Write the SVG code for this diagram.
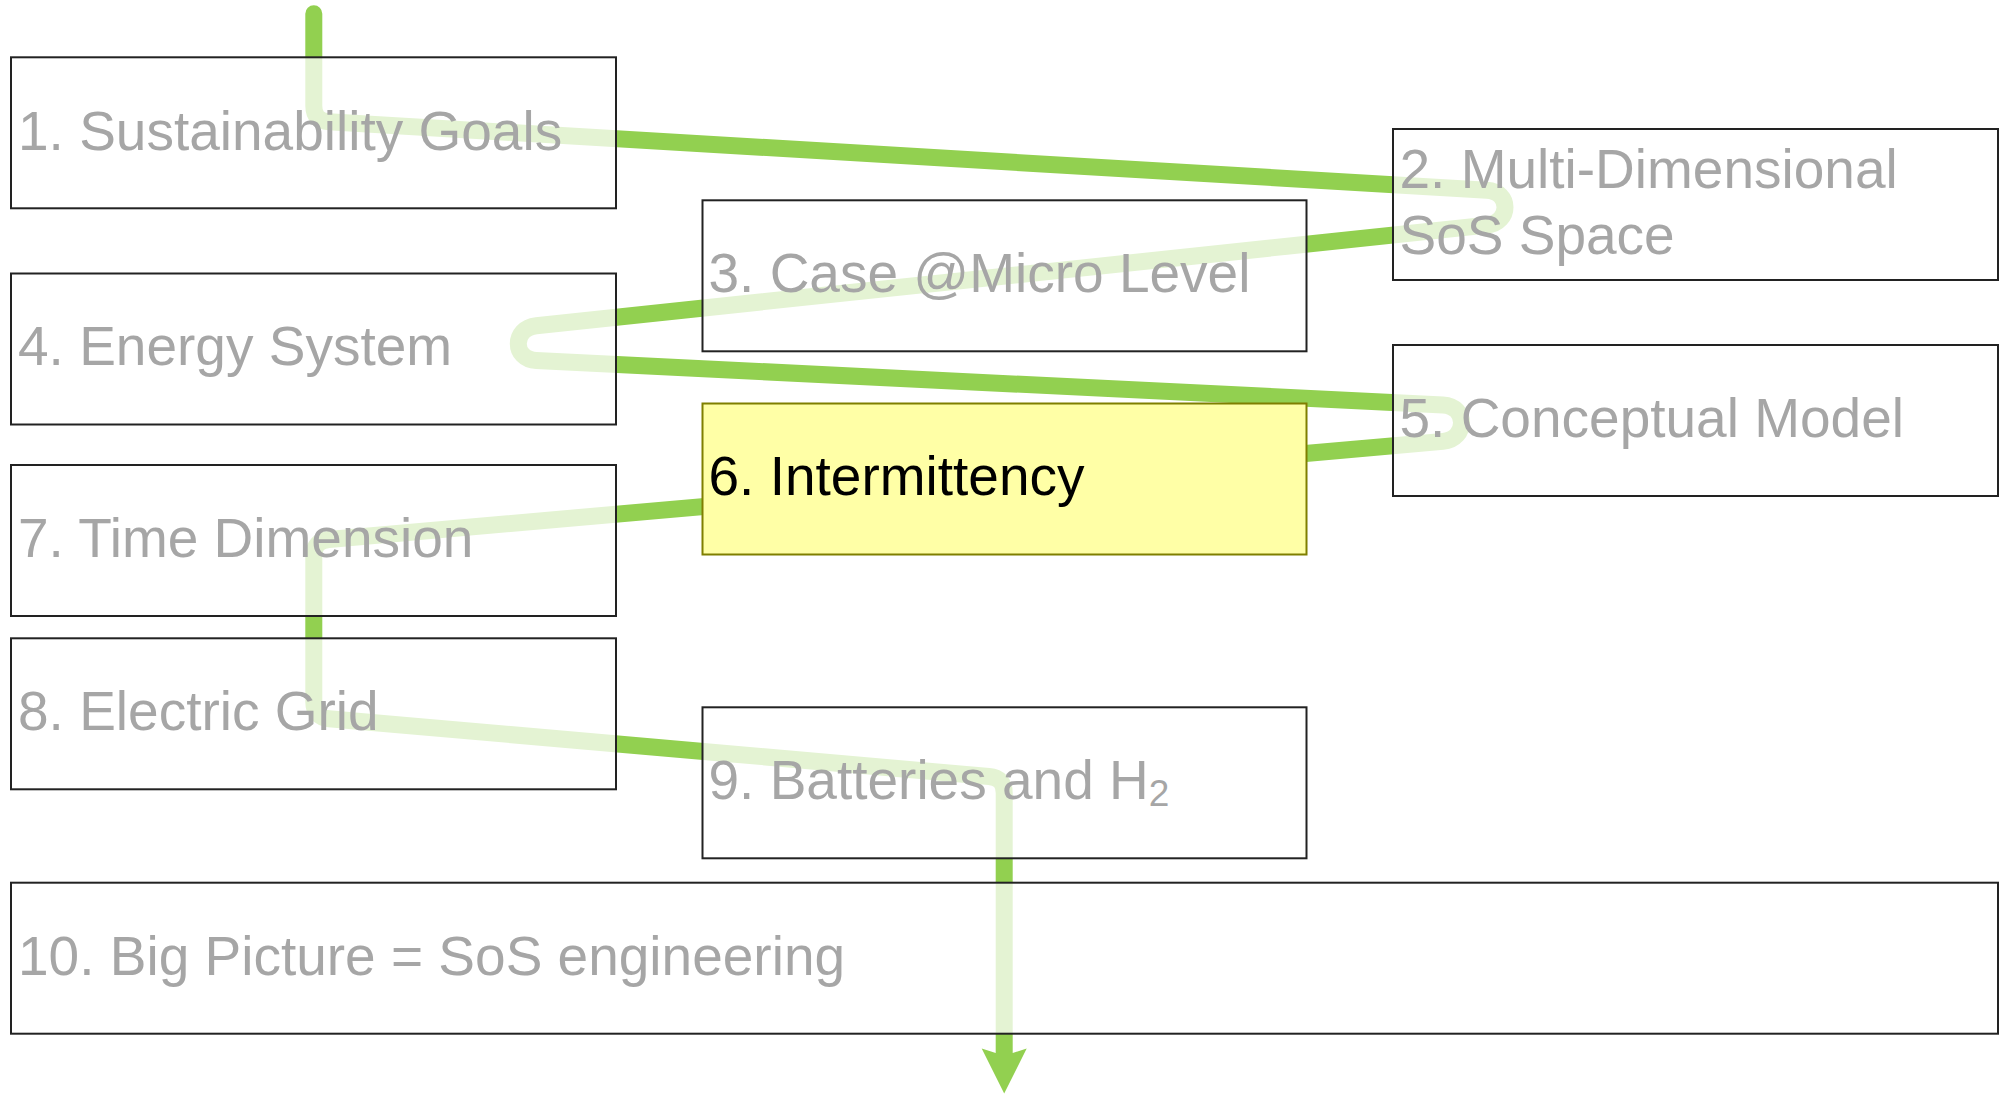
<svg xmlns="http://www.w3.org/2000/svg" width="2004" height="1094" viewBox="0 0 2004 1094">
  <style>
    .box { fill: #ffffff; fill-opacity: 0.75; stroke: #222222; stroke-width: 2; }
    .hl { fill: #ffffa6; stroke: #7f7f00; stroke-width: 2; }
    .lbl { font-family: "Liberation Sans", Arial, sans-serif; font-size: 55px; fill: #a6a6a6; }
    .lbl-on { fill: #000000; }
    .flow { fill: none; stroke: #92d050; stroke-width: 17; stroke-linecap: round; stroke-linejoin: round; }
  </style>
  <defs>
    <marker id="arrowhead" markerUnits="userSpaceOnUse" orient="auto" refX="0" refY="0" markerWidth="50" markerHeight="50" overflow="visible">
      <path d="M -4.5 -22.5 L 40.5 0 L -4.5 22.5 L 0 8.5 L 0 -8.5 Z" fill="#92d050"/>
    </marker>
  </defs>

  <rect width="2004" height="1094" fill="#ffffff"/>

  <!-- the winding route through all steps, drawn beneath the boxes -->
  <g id="connectors">
    <path class="flow" marker-end="url(#arrowhead)" d="M 313.8 13.8 V 105.8 Q 313.8 120.8 328.8 121.7 L 1487 190.3 C 1511 191.7 1511 222.6 1487 225.1 L 536.3 325.7 C 512.3 328.2 512.3 359.4 536.3 360.6 L 1443 404.9 C 1467.7 406.1 1467.7 439.2 1443 441.4 L 329 539.5 Q 313.8 540.8 313.8 556 V 702 Q 313.8 717.4 329 718.7 L 989 776.5 Q 1004.2 777.8 1004.2 793 V 1053"/>
  </g>

  <g id="step1">
    <rect class="box" x="11" y="57.3" width="605" height="151"/>
    <text class="lbl" x="18" y="149.5">1. Sustainability Goals</text>
  </g>
  <g id="step2">
    <rect class="box" x="1393" y="129" width="605" height="151"/>
    <text class="lbl" x="1399.5" y="188.3">2. Multi-Dimensional</text>
    <text class="lbl" x="1399.5" y="254">SoS Space</text>
  </g>
  <g id="step3">
    <rect class="box" x="702.5" y="200.3" width="604" height="151"/>
    <text class="lbl" x="708.5" y="291.7">3. Case @Micro Level</text>
  </g>
  <g id="step4">
    <rect class="box" x="11" y="273.5" width="605" height="151"/>
    <text class="lbl" x="18" y="364.5">4. Energy System</text>
  </g>
  <g id="step5">
    <rect class="box" x="1393" y="345" width="605" height="151"/>
    <text class="lbl" x="1399.5" y="437.3">5. Conceptual Model</text>
  </g>
  <g id="step6">
    <rect class="hl" x="702.5" y="403.5" width="604" height="151"/>
    <text class="lbl lbl-on" x="708.5" y="495">6. Intermittency</text>
  </g>
  <g id="step7">
    <rect class="box" x="11" y="465" width="605" height="151"/>
    <text class="lbl" x="18" y="556.5">7. Time Dimension</text>
  </g>
  <g id="step8">
    <rect class="box" x="11" y="638.3" width="605" height="151"/>
    <text class="lbl" x="18" y="730">8. Electric Grid</text>
  </g>
  <g id="step9">
    <rect class="box" x="702.5" y="707.3" width="604" height="151"/>
    <text class="lbl" x="708.5" y="799.3">9. Batteries and H<tspan font-size="37" dy="7">2</tspan></text>
  </g>
  <g id="step10">
    <rect class="box" x="11" y="882.7" width="1987" height="151"/>
    <text class="lbl" x="18" y="974.5">10. Big Picture = SoS engineering</text>
  </g>
</svg>
